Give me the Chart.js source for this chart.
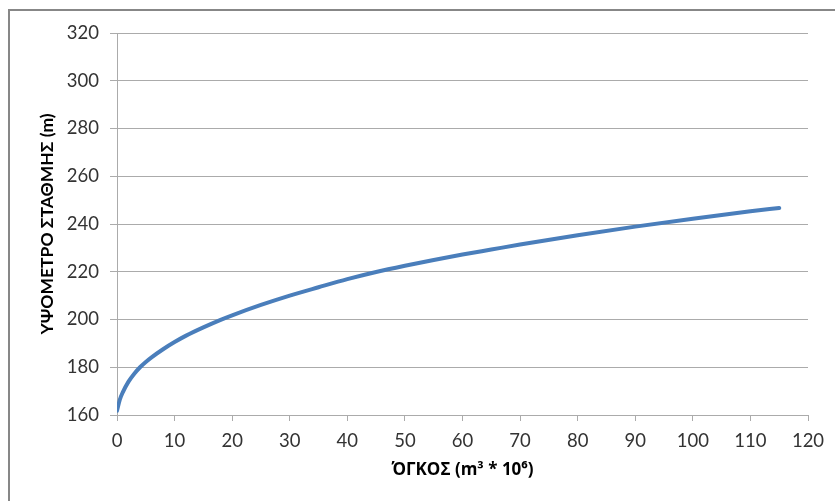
<!DOCTYPE HTML>
<html>
<head>
  <meta charset="utf-8">
  <script src="https://cdn.jsdelivr.net/npm/chart.js@4/dist/chart.umd.min.js"></script>
  <style>
    html, body { margin: 0; padding: 0; background: #fff; }
    #wrap { width: 835px; height: 501px; }
  </style>
</head>
<body>
  <div id="wrap"><canvas id="myChart" width="835" height="501"></canvas></div>

  <script type="text/javascript">
    // storage curve: volume (m3 * 10^6) vs water level (m)
    var volume    = [0, 0.5, 1, 2, 3, 4, 5, 6, 8, 10, 12, 15, 18, 20, 25, 30, 35, 40, 45, 50, 55, 60, 65, 70, 80, 90, 100, 110, 115];
    var elevation = [161.8, 166.5, 169.5, 174.0, 177.3, 180.0, 182.2, 184.15, 187.55, 190.55, 193.25, 196.7, 199.85, 201.75, 206.1, 210.0, 213.5, 216.9, 219.9, 222.5, 224.9, 227.2, 229.3, 231.4, 235.3, 238.9, 242.2, 245.3, 246.7];

    var xTicks = { min: 0, max: 120, step: 10 };
    var yTicks = { min: 160, max: 320, step: 20 };

    var points = volume.map(function (v, i) { return { x: v, y: elevation[i] }; });

    var tickFont = 'Lato, "Open Sans", sans-serif';
    var gridColor = '#ababab';

    // grey frame of the chart area (only top and left edges show)
    var framePlugin = {
      id: 'frame',
      beforeDraw: function (chart) {
        var c = chart.ctx;
        c.save();
        c.strokeStyle = '#878787';
        c.lineWidth = 2;
        c.beginPath();
        c.moveTo(9, chart.height + 5);
        c.lineTo(9, 10);
        c.lineTo(chart.width + 5, 10);
        c.stroke();
        c.restore();
      }
    };

    var ctx = document.getElementById('myChart');
    var chart = new Chart(ctx, {
      type: 'scatter',
      data: {
        datasets: [{
          data: points,
          showLine: true,
          borderColor: '#4a7ebb',
          borderWidth: 4,
          borderCapStyle: 'round',
          pointRadius: 0,
          cubicInterpolationMode: 'monotone'
        }]
      },
      options: {
        responsive: false,
        animation: false,
        layout: { padding: { top: 33, right: 27, left: 0, bottom: 0 } },
        plugins: { legend: { display: false }, tooltip: { enabled: false } },
        scales: {
          x: {
            type: 'linear',
            min: xTicks.min,
            max: xTicks.max,
            afterFit: function (scale) { scale.height = 86; },
            ticks: {
              stepSize: xTicks.step,
              padding: 9,
              color: '#333',
              maxRotation: 0,
              font: { family: tickFont, size: 18.5 }
            },
            grid: { drawOnChartArea: false, drawTicks: true, tickLength: 6, color: gridColor },
            border: { display: true, color: gridColor, width: 1 },
            title: {
              display: true,
              text: 'ΌΓΚΟΣ (m³ * 10⁶)',
              color: '#000',
              padding: { top: 0, bottom: 21 },
              font: { family: '"Open Sans", sans-serif', size: 17, weight: 'bold' }
            }
          },
          y: {
            type: 'linear',
            min: yTicks.min,
            max: yTicks.max,
            afterFit: function (scale) { scale.width = 117; },
            ticks: {
              stepSize: yTicks.step,
              padding: 11,
              color: '#333',
              font: { family: tickFont, size: 18.5 }
            },
            grid: { color: gridColor, lineWidth: 1, tickLength: 7 },
            border: { display: true, color: gridColor, width: 1 },
            title: {
              display: true,
              text: 'ΥΨΟΜΕΤΡΟ ΣΤΑΘΜΗΣ (m)',
              color: '#000',
              padding: { top: 37, bottom: 0 },
              font: { family: 'Lato, "Open Sans", sans-serif', size: 17.5, weight: 'bold' }
            }
          }
        }
      },
      plugins: [framePlugin]
    });
  </script>
</body>
</html>
